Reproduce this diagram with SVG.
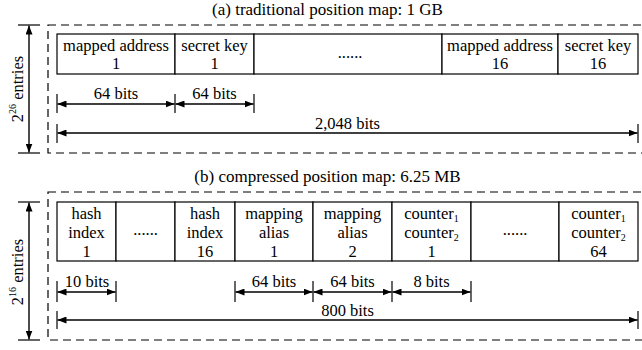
<svg xmlns="http://www.w3.org/2000/svg" width="642" height="350" viewBox="0 0 642 350" font-family="'Liberation Serif', 'Times New Roman', Times, serif">
<defs>
<marker id="ah" markerUnits="userSpaceOnUse" viewBox="0 0 9 7" refX="9" refY="3.5" markerWidth="9" markerHeight="7" orient="auto-start-reverse">
<path d="M0,0 L9,3.5 L0,7 z" fill="#000"/>
</marker>
</defs>
<style>
text{font-family:'Liberation Serif','Times New Roman',Times,serif;font-size:16.5px;fill:#000;text-anchor:middle}
.title{font-size:17px}
.cell{fill:#fff;stroke:#000;stroke-width:1.2}
.dash{fill:none;stroke:#000;stroke-width:1.2;stroke-dasharray:8 5}
.dim{stroke:#000;stroke-width:1.4;fill:none;marker-start:url(#ah);marker-end:url(#ah)}
.tick{stroke:#000;stroke-width:1.2}
.sub{font-size:10px}
</style>
<rect width="642" height="350" fill="#fff"/>

<text class="title" x="327.5" y="15">(a) traditional position map: 1 GB</text>
<text class="title" x="327.5" y="182">(b) compressed position map: 6.25 MB</text>

<rect class="dash" x="48" y="25" width="620" height="128"/>
<rect class="dash" x="48" y="192" width="620" height="148"/>

<g id="top-table">
<g id="a-cell1"><rect class="cell" x="57" y="34" width="118" height="40"/><text x="116" y="50.5">mapped address</text><text x="116" y="69">1</text></g>
<g id="a-cell2"><rect class="cell" x="175" y="34" width="79" height="40"/><text x="214.5" y="50.5">secret key</text><text x="214.5" y="69">1</text></g>
<g id="a-cell3"><rect class="cell" x="254" y="34" width="188" height="40"/><text x="350" y="58">......</text></g>
<g id="a-cell4"><rect class="cell" x="442" y="34" width="116" height="40"/><text x="500" y="50.5">mapped address</text><text x="500" y="69">16</text></g>
<g id="a-cell5"><rect class="cell" x="558" y="34" width="80" height="40"/><text x="598" y="50.5">secret key</text><text x="598" y="69">16</text></g>
</g>

<g id="bottom-table">
<g id="b-cell1"><rect class="cell" x="57" y="202" width="59" height="59"/><text x="86.5" y="219">hash</text><text x="86.5" y="238">index</text><text x="86.5" y="257">1</text></g>
<g id="b-cell2"><rect class="cell" x="116" y="202" width="59" height="59"/><text x="145.5" y="235">......</text></g>
<g id="b-cell3"><rect class="cell" x="175" y="202" width="60" height="59"/><text x="205" y="219">hash</text><text x="205" y="238">index</text><text x="205" y="257">16</text></g>
<g id="b-cell4"><rect class="cell" x="235" y="202" width="78" height="59"/><text x="274" y="219">mapping</text><text x="274" y="238">alias</text><text x="274" y="257">1</text></g>
<g id="b-cell5"><rect class="cell" x="313" y="202" width="79" height="59"/><text x="352.5" y="219">mapping</text><text x="352.5" y="238">alias</text><text x="352.5" y="257">2</text></g>
<g id="b-cell6"><rect class="cell" x="392" y="202" width="79" height="59"/><text x="431.5" y="219">counter<tspan class="sub" dy="3">1</tspan></text><text x="431.5" y="238">counter<tspan class="sub" dy="3">2</tspan></text><text x="431.5" y="257">1</text></g>
<g id="b-cell7"><rect class="cell" x="471" y="202" width="88" height="59"/><text x="515" y="235">......</text></g>
<g id="b-cell8"><rect class="cell" x="559" y="202" width="79" height="59"/><text x="598.5" y="219">counter<tspan class="sub" dy="3">1</tspan></text><text x="598.5" y="238">counter<tspan class="sub" dy="3">2</tspan></text><text x="598.5" y="257">64</text></g>
</g>

<g id="connectors">
<line class="tick" x1="57" y1="94" x2="57" y2="113"/>
<line class="tick" x1="175" y1="94" x2="175" y2="113"/>
<line class="tick" x1="254" y1="94" x2="254" y2="113"/>
<line class="dim" x1="57.5" y1="104" x2="174.5" y2="104"/>
<line class="dim" x1="175.5" y1="104" x2="253.5" y2="104"/>
<line class="tick" x1="57" y1="124" x2="57" y2="143"/>
<line class="tick" x1="638" y1="124" x2="638" y2="143"/>
<line class="dim" x1="57.5" y1="133" x2="637.5" y2="133"/>
<line class="tick" x1="57" y1="281" x2="57" y2="302"/>
<line class="tick" x1="116" y1="281" x2="116" y2="302"/>
<line class="tick" x1="235" y1="281" x2="235" y2="302"/>
<line class="tick" x1="313" y1="281" x2="313" y2="302"/>
<line class="tick" x1="392" y1="281" x2="392" y2="302"/>
<line class="tick" x1="471" y1="281" x2="471" y2="302"/>
<line class="dim" x1="57.5" y1="292" x2="115.5" y2="292"/>
<line class="dim" x1="235.5" y1="292" x2="312.5" y2="292"/>
<line class="dim" x1="313.5" y1="292" x2="391.5" y2="292"/>
<line class="dim" x1="392.5" y1="292" x2="470.5" y2="292"/>
<line class="tick" x1="57" y1="311" x2="57" y2="329"/>
<line class="tick" x1="638" y1="311" x2="638" y2="329"/>
<line class="dim" x1="57.5" y1="320" x2="637.5" y2="320"/>
<line class="tick" x1="18" y1="25" x2="40" y2="25"/>
<line class="tick" x1="18" y1="153" x2="40" y2="153"/>
<line class="dim" x1="29" y1="25.5" x2="29" y2="152.5"/>
<line class="tick" x1="18" y1="202" x2="40" y2="202"/>
<line class="tick" x1="18" y1="340" x2="40" y2="340"/>
<line class="dim" x1="29" y1="202.5" x2="29" y2="339.5"/>
</g>

<g id="labels">
<text x="116" y="99">64 bits</text>
<text x="214.5" y="99">64 bits</text>
<text x="347.5" y="129">2,048 bits</text>
<text x="87" y="287">10 bits</text>
<text x="274" y="287">64 bits</text>
<text x="352.5" y="287">64 bits</text>
<text x="431.5" y="287">8 bits</text>
<text x="347.5" y="316">800 bits</text>
<text transform="translate(23,89) rotate(-90)">2<tspan class="sub" dy="-7">26</tspan><tspan dy="7"> entries</tspan></text>
<text transform="translate(23,272) rotate(-90)">2<tspan class="sub" dy="-7">16</tspan><tspan dy="7"> entries</tspan></text>
</g>
</svg>
